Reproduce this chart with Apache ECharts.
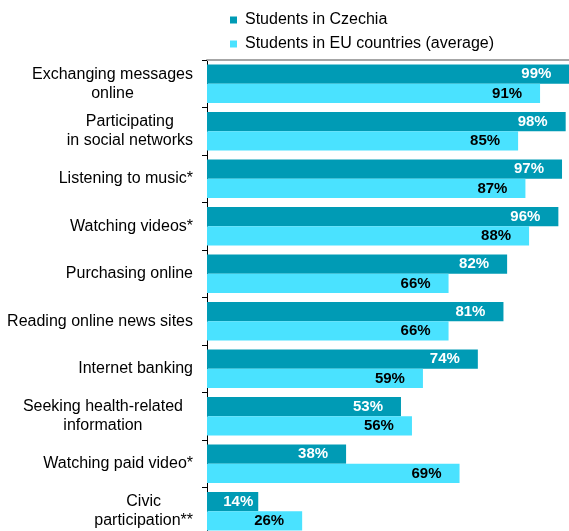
<!DOCTYPE html>
<html>
<head>
<meta charset="utf-8">
<script src="https://cdn.jsdelivr.net/npm/echarts@6/dist/echarts.min.js"></script>
<style>
  html, body { margin: 0; padding: 0; background: #fff; }
  #chart { width: 569px; height: 531px; }
</style>
</head>
<body>
<div id="chart"></div>
<script>
// Online activities of students, share in percent
const categories = [
  'Exchanging messages\nonline',
  'Participating\nin social networks',
  'Listening to music*',
  'Watching videos*',
  'Purchasing online',
  'Reading online news sites',
  'Internet banking',
  'Seeking health-related\ninformation',
  'Watching paid video*',
  'Civic\nparticipation**'
];
const czechia = [99, 98, 97, 96, 82, 81, 74, 53, 38, 14];
const euAverage = [91, 85, 87, 88, 66, 66, 59, 56, 69, 26];
const seriesNames = ['Students in Czechia', 'Students in EU countries (average)'];

const FONT = 'Liberation Sans, Arial, sans-serif';
const DARK = '#009BB5';
const LIGHT = '#4AE2FF';

// short bars keep their value label closer to the bar end
function withLabels(values) {
  return values.map(v => (v < 20 ? { value: v, label: { distance: 5 } } : { value: v }));
}

// the health-related label sits a little further from the axis
const categoryData = categories.map(c =>
  c.indexOf('Seeking') === 0 ? { value: c, textStyle: { padding: [0, 10, 0, 0] } } : c
);

const chart = echarts.init(document.getElementById('chart'));
chart.setOption({
  animation: false,
  legend: {
    orient: 'vertical',
    left: 230,
    top: 12,
    padding: 0,
    itemWidth: 7,
    itemHeight: 7,
    itemGap: 8,
    icon: 'rect',
    textStyle: { fontFamily: FONT, fontSize: 16, color: '#000', padding: [0, 0, 0, 3] },
    data: seriesNames
  },
  grid: { left: 207, top: 60, width: 366, height: 475, containLabel: false, outerBoundsMode: 'none' },
  xAxis: {
    type: 'value',
    position: 'top',
    min: 0,
    max: 100,
    axisLine: { show: true, lineStyle: { color: '#A6A6A6', width: 2 } },
    axisTick: { show: false },
    axisLabel: { show: false },
    splitLine: { show: false }
  },
  yAxis: {
    type: 'category',
    inverse: true,
    data: categoryData,
    axisLine: { show: true, lineStyle: { color: '#000', width: 1 } },
    axisTick: { show: true, length: 5, inside: false, lineStyle: { color: '#000' } },
    axisLabel: {
      margin: 14,
      align: 'right',
      formatter: v => '{a|' + v + '}',
      rich: {
        a: { fontFamily: FONT, fontSize: 16, color: '#000', align: 'center', lineHeight: 19 }
      }
    }
  },
  series: [
    {
      name: seriesNames[0],
      type: 'bar',
      data: withLabels(czechia),
      itemStyle: { color: DARK },
      barGap: '0%',
      barCategoryGap: '19%',
      label: {
        show: true,
        position: 'insideRight',
        distance: 18,
        formatter: '{c}%',
        fontFamily: FONT,
        fontSize: 15,
        fontWeight: 'bold',
        color: '#fff'
      }
    },
    {
      name: seriesNames[1],
      type: 'bar',
      data: withLabels(euAverage),
      itemStyle: { color: LIGHT },
      barGap: '0%',
      barCategoryGap: '19%',
      label: {
        show: true,
        position: 'insideRight',
        distance: 18,
        formatter: '{c}%',
        fontFamily: FONT,
        fontSize: 15,
        fontWeight: 'bold',
        color: '#000'
      }
    }
  ]
});
</script>
</body>
</html>
